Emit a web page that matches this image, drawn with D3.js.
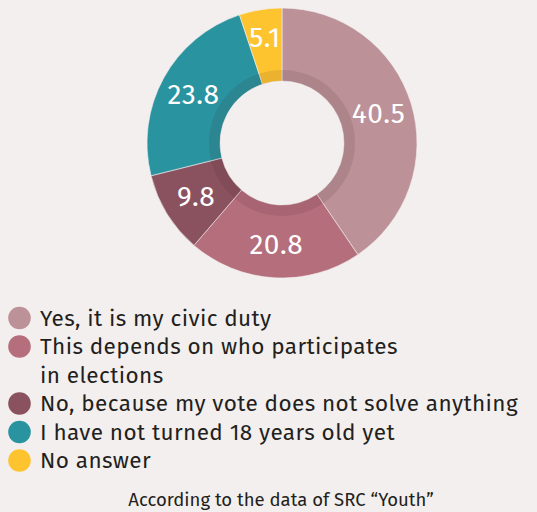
<!DOCTYPE html>
<html><head><meta charset="utf-8">
<script src="https://cdn.jsdelivr.net/npm/d3@7"></script>
<style>
html,body{margin:0;padding:0;background:#f3efee;}
svg{display:block;}
</style></head>
<body>
<svg id="c" width="537" height="512"></svg>
<script>
const categories = ["Yes, it is my civic duty", "This depends on who participates\nin elections", "No, because my vote does not solve anything", "I have not turned 18 years old yet", "No answer"];
const values = [40.5, 20.8, 9.8, 23.8, 5.1];
const labels = ["40.5", "20.8", "9.8", "23.8", "5.1"];
const colors = ["#bc9198", "#b56e7c", "#8a525f", "#2a93a0", "#fec430"];
const footer = "According to the data of SRC \u201cYouth\u201d";

const svg = d3.select("#c");
const FONT = "'Fira Sans','Noto Sans','Open Sans',sans-serif";
const cx = 282, cy = 143, rOuter = 135, rInner = 62;

const pie = d3.pie().sort(null).value(d => d)(values);
const arc = d3.arc().innerRadius(rInner).outerRadius(rOuter);
const g = svg.append("g").attr("transform", `translate(${cx},${cy})`);
g.selectAll("path.s").data(pie).join("path").attr("class","s")
  .attr("d", arc).attr("fill", (d,i) => colors[i])
  .attr("stroke", "#f3efee").attr("stroke-width", 0.6);
// inner shadow ring
g.append("path").attr("d", d3.arc().innerRadius(rInner).outerRadius(73).startAngle(0).endAngle(2*Math.PI)())
  .attr("fill", "rgba(60,20,30,0.10)");
g.selectAll("text.v").data(pie).join("text").attr("class","v")
  .attr("transform", d => {
    const lr = (d.endAngle - d.startAngle) < 0.5 ? 107 : 101;
    const c = d3.arc().innerRadius(lr).outerRadius(lr).centroid(d);
    return `translate(${c[0]},${c[1]})`; })
  .attr("text-anchor","middle").attr("dy","0.36em")
  .attr("fill","#fff").attr("font-family",FONT).attr("font-size",28).attr("letter-spacing",0.5)
  .text((d,i) => labels[i]);

// legend
const lg = svg.append("g");
let y = 318;
categories.forEach((c, i) => {
  const lines = c.split("\n");
  lg.append("circle").attr("cx", 19.5).attr("cy", y).attr("r", 11.3).attr("fill", colors[i]);
  lines.forEach((ln, j) => {
    lg.append("text").attr("x", 40).attr("y", y + j*28.5).attr("dy","0.35em")
      .attr("font-family",FONT).attr("font-size",22.5).attr("letter-spacing",0.42).attr("fill","#231f20").text(ln);
  });
  y += 28.5 * lines.length;
});

svg.append("text").attr("x", 281).attr("y", 505.5).attr("text-anchor","middle")
  .attr("font-family",FONT).attr("font-size",18.5).attr("fill","#231f20").text(footer);
</script>
</body></html>
